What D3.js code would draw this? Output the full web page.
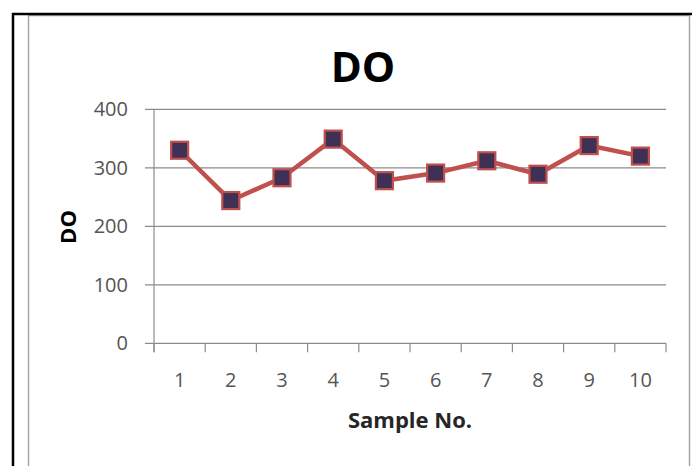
<!DOCTYPE html>
<html lang="en">
<head>
  <meta charset="UTF-8">
  <title>DO</title>
  <script src="https://cdn.jsdelivr.net/npm/d3@7"></script>
  <style>
    body { margin: 0; padding: 0; background: #fff; }
    svg { display: block; font-family: "Open Sans", sans-serif; }
  </style>
</head>
<body>
  <svg id="chart" width="692" height="466"></svg>

  <script>
    const samples = ["1", "2", "3", "4", "5", "6", "7", "8", "9", "10"];
    const doValues = [330, 244, 283, 349, 278, 291, 312, 289, 338, 320];
    const yTicks = [0, 100, 200, 300, 400];

    const svg = d3.select("#chart");

    // frame around the chart (cropped from a document)
    svg.append("rect")
      .attr("x", 28.5).attr("y", 15.5)
      .attr("width", 661).attr("height", 470)
      .attr("fill", "none")
      .attr("stroke", "#a6a6a6")
      .attr("stroke-width", 1.5);
    svg.append("line")
      .attr("x1", 13).attr("x2", 13).attr("y1", 13).attr("y2", 466)
      .attr("stroke", "#000").attr("stroke-width", 2.5);
    svg.append("line")
      .attr("x1", 12).attr("x2", 692).attr("y1", 14).attr("y2", 14)
      .attr("stroke", "#000").attr("stroke-width", 2.5);

    const plotL = 154, plotR = 666, plotT = 109.3, plotB = 343.3;

    const x = d3.scaleBand().domain(samples).range([plotL, plotR]);
    const y = d3.scaleLinear().domain([0, 400]).range([plotB, plotT]);

    // gridlines
    svg.append("g")
      .selectAll("line")
      .data(yTicks)
      .enter()
      .append("line")
      .attr("x1", plotL - 9).attr("x2", plotR)
      .attr("y1", d => y(d)).attr("y2", d => y(d))
      .attr("stroke", "#8c8c8c").attr("stroke-width", 1.2);

    // y axis line
    svg.append("line")
      .attr("x1", plotL).attr("x2", plotL)
      .attr("y1", plotT).attr("y2", plotB + 9)
      .attr("stroke", "#8c8c8c").attr("stroke-width", 1.2);

    // x category boundary ticks
    const bounds = samples.map(d => x(d)).concat([x.range()[1]]);
    svg.append("g")
      .selectAll("line")
      .data(bounds)
      .enter()
      .append("line")
      .attr("x1", d => d).attr("x2", d => d)
      .attr("y1", plotB).attr("y2", plotB + 9)
      .attr("stroke", "#8c8c8c").attr("stroke-width", 1.2);

    // y tick labels
    svg.append("g")
      .selectAll("text")
      .data(yTicks)
      .enter()
      .append("text")
      .attr("x", 128)
      .attr("y", d => y(d) + 7)
      .attr("text-anchor", "end")
      .attr("font-size", 20)
      .attr("fill", "#555")
      .text(d => d);

    // x tick labels
    svg.append("g")
      .selectAll("text")
      .data(samples)
      .enter()
      .append("text")
      .attr("x", d => x(d) + x.bandwidth() / 2)
      .attr("y", 387)
      .attr("text-anchor", "middle")
      .attr("font-size", 20)
      .attr("fill", "#555")
      .text(d => d);

    // series line
    const line = d3.line()
      .x((d, i) => x(samples[i]) + x.bandwidth() / 2)
      .y(d => y(d));

    svg.append("path")
      .datum(doValues)
      .attr("d", line)
      .attr("fill", "none")
      .attr("stroke", "#c0504d")
      .attr("stroke-width", 4.5)
      .attr("stroke-linejoin", "round");

    // square markers
    const m = 17;
    svg.append("g")
      .selectAll("rect")
      .data(doValues)
      .enter()
      .append("rect")
      .attr("x", (d, i) => x(samples[i]) + x.bandwidth() / 2 - m / 2)
      .attr("y", d => y(d) - m / 2)
      .attr("width", m).attr("height", m)
      .attr("fill", "#3e3155")
      .attr("stroke", "#c0504d")
      .attr("stroke-width", 2.2);

    // titles
    svg.append("text")
      .attr("x", 363).attr("y", 82)
      .attr("text-anchor", "middle")
      .attr("font-size", 42)
      .attr("font-weight", "bold")
      .attr("fill", "#000")
      .text("DO");

    svg.append("text")
      .attr("transform", "translate(76,227) rotate(-90)")
      .attr("text-anchor", "middle")
      .attr("font-size", 22)
      .attr("font-weight", "bold")
      .attr("fill", "#000")
      .text("DO");

    svg.append("text")
      .attr("x", 410).attr("y", 428)
      .attr("text-anchor", "middle")
      .attr("font-size", 22)
      .attr("font-weight", "bold")
      .attr("fill", "#262626")
      .text("Sample No.");
  </script>
</body>
</html>
